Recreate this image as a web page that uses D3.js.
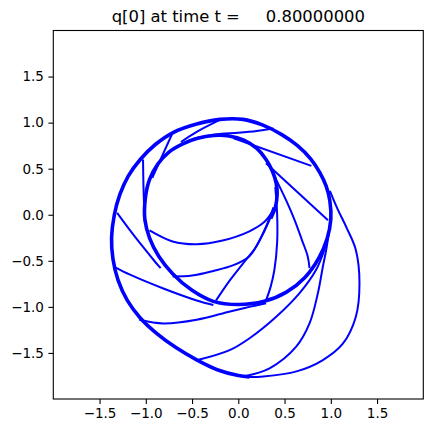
<!DOCTYPE html>
<html>
<head>
<meta charset="utf-8">
<script src="https://cdn.jsdelivr.net/npm/d3@7"></script>
<style>
  html, body { margin: 0; padding: 0; background: #fff; }
  svg { display: block; }
  text { font-family: "DejaVu Sans", sans-serif; fill: #000; }
</style>
</head>
<body>
<svg id="chart" width="433" height="433"></svg>
<script>
// ---- data ----
const titleText = "q[0] at time t =     0.80000000";
const xTicks = [-1.5, -1.0, -0.5, 0.0, 0.5, 1.0, 1.5];
const yTicks = [-1.5, -1.0, -0.5, 0.0, 0.5, 1.0, 1.5];

// main spiral (drawn many times over in the original -> thick)
const spiral = [[0.35,-0.04],[0.40,0.08],[0.42,0.22],[0.41,0.34],[0.37,0.47],[0.30,0.60],[0.20,0.72],[0.06,0.81],[-0.10,0.855],[-0.27,0.86],[-0.44,0.83],[-0.60,0.77],[-0.75,0.68],[-0.87,0.55],[-0.96,0.38],[-1.005,0.18],[-1.01,-0.05],[-0.96,-0.25],[-0.86,-0.45],[-0.71,-0.64],[-0.50,-0.82],[-0.27,-0.94],[0.0,-0.975],[0.28,-0.94],[0.52,-0.84],[0.72,-0.68],[0.87,-0.47],[0.96,-0.26],[1.0,-0.05],[0.99,0.15],[0.95,0.31],[0.88,0.46],[0.78,0.61],[0.64,0.75],[0.47,0.87],[0.26,0.975],[0.05,1.035],[-0.20,1.035],[-0.45,0.985],[-0.70,0.895],[-0.90,0.76],[-1.06,0.60],[-1.19,0.42],[-1.28,0.22],[-1.34,0.0],[-1.37,-0.25],[-1.355,-0.48],[-1.30,-0.71],[-1.20,-0.93],[-1.06,-1.12],[-0.88,-1.29],[-0.67,-1.445],[-0.45,-1.575],[-0.22,-1.685],[0.0,-1.745],[0.12,-1.76]];

// outer right bulge
const bulge = [[0.0,-1.745],[0.12,-1.76],[0.27,-1.755],[0.63,-1.70],[0.91,-1.58],[1.13,-1.40],[1.27,-1.11],[1.31,-0.74],[1.27,-0.38],[1.17,-0.14],[1.07,0.07],[0.99,0.26]];

// thin connecting strokes
const chord1 = [[-1.03,0.60],[-1.025,0.30],[-1.015,0.0],[-1.01,-0.09]];
const chord2 = [[-0.71,0.89],[-0.93,0.40]];
const chord3 = [[-0.20,1.03],[-0.45,0.90],[-0.62,0.79]];
const chord4 = [[-0.50,0.82],[-0.25,0.87],[0.0,0.89],[0.20,0.91],[0.38,0.935]];
const chord5 = [[-0.05,0.83],[0.79,0.53]];
const chord6 = [[0.30,0.56],[0.97,-0.06]];
const spoke7 = [[0.40,0.40],[0.52,0.15],[0.61,-0.06],[0.69,-0.28],[0.75,-0.45],[0.77,-0.58]];
const spoke8 = [[0.40,0.30],[0.42,0.0],[0.42,-0.30],[0.39,-0.60],[0.35,-0.78],[0.30,-0.93]];
const spoke9 = [[0.38,0.08],[0.30,-0.13],[0.19,-0.35],[0.05,-0.53],[-0.09,-0.71],[-0.24,-0.93]];
const spoke10 = [[0.36,0.0],[0.26,-0.22],[0.12,-0.45],[-0.06,-0.55],[-0.27,-0.61],[-0.50,-0.66],[-0.71,-0.67]];
const spoke11 = [[0.36,0.02],[0.28,-0.08],[0.12,-0.18],[-0.17,-0.28],[-0.45,-0.32],[-0.71,-0.29],[-0.96,-0.17]];
const chord12 = [[-1.31,0.02],[-1.17,-0.17],[-1.03,-0.35],[-0.90,-0.51],[-0.84,-0.58]];
const chord13 = [[-1.33,-0.57],[-1.17,-0.65],[-0.81,-0.80],[-0.45,-0.93],[-0.27,-0.98]];
const chord14 = [[-1.07,-1.14],[-0.81,-1.18],[-0.45,-1.14],[-0.09,-1.05],[0.12,-1.0],[0.30,-0.96]];
const curve15 = [[-0.45,-1.58],[-0.094,-1.47],[0.122,-1.34],[0.41,-1.107],[0.66,-0.853],[0.84,-0.60],[0.93,-0.38],[0.98,-0.18]];
const curve16 = [[0.08,-1.75],[0.338,-1.667],[0.626,-1.432],[0.77,-1.18],[0.86,-0.853],[0.914,-0.564],[0.95,-0.383],[0.99,-0.12]];

const thinStrokes = [bulge, chord1, chord2, chord3, chord4, chord5, chord6, spoke7, spoke8, spoke9, spoke10, spoke11, chord12, chord13, chord14, curve15, curve16];

// ---- drawing ----
const svg = d3.select("#chart");
const padL = 53.3, padR = 423.3, padT = 30.5, padB = 399;
const x = d3.scaleLinear().domain([-2, 2]).range([padL, padR]);
const y = d3.scaleLinear().domain([-2, 2]).range([padB, padT]);
const fmt = v => d3.format(".1f")(v).replace("-", "\u2212");

const line = d3.line()
  .x(d => x(d[0])).y(d => y(d[1]))
  .curve(d3.curveCatmullRom.alpha(0.5));

const plot = svg.append("g");
plot.selectAll("path.thin").data(thinStrokes).join("path")
  .attr("class", "thin")
  .attr("d", line)
  .attr("fill", "none").attr("stroke", "#0000ff")
  .attr("stroke-width", 2.0).attr("stroke-linejoin", "round");
plot.append("path").datum(spiral)
  .attr("d", line)
  .attr("fill", "none").attr("stroke", "#0000ff")
  .attr("stroke-width", 3.6).attr("stroke-linejoin", "round");

// axes
const xAxis = svg.append("g").attr("transform", `translate(0,${padB})`)
  .call(d3.axisBottom(x).tickValues(xTicks).tickFormat(fmt).tickSize(4.9).tickPadding(4.5));
const yAxis = svg.append("g").attr("transform", `translate(${padL},0)`)
  .call(d3.axisLeft(y).tickValues(yTicks).tickFormat(fmt).tickSize(4.9).tickPadding(4.5));
[xAxis, yAxis].forEach(a => {
  a.select(".domain").remove();
  a.selectAll(".tick line").attr("stroke", "#000").attr("stroke-width", 1.1);
  a.selectAll(".tick text").attr("font-family", "DejaVu Sans").attr("font-size", 13.5).attr("fill", "#000");
});

svg.append("rect")
  .attr("x", padL).attr("y", padT)
  .attr("width", padR - padL).attr("height", padB - padT)
  .attr("fill", "none").attr("stroke", "#000").attr("stroke-width", 1.1);

svg.append("text")
  .attr("x", (padL + padR) / 2).attr("y", 22)
  .attr("text-anchor", "middle")
  .attr("font-size", 16.4)
  .style("white-space", "pre")
  .text(titleText);
</script>
</body>
</html>
